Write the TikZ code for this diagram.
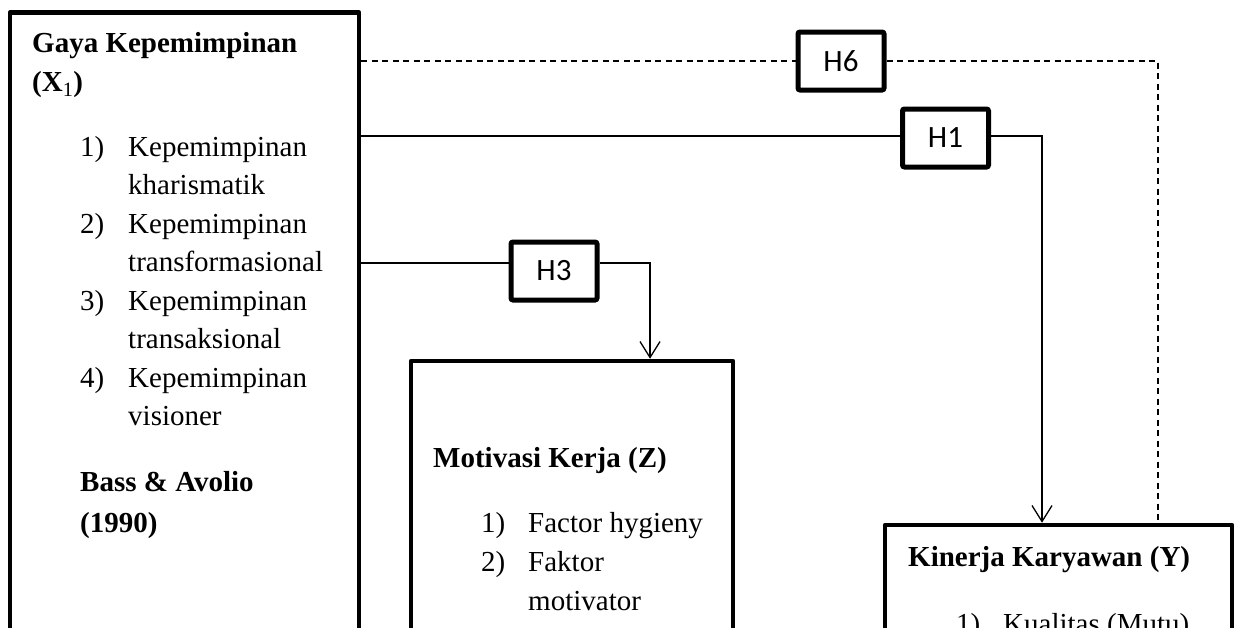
\documentclass[tikz,border=0pt]{standalone}
\usepackage{fontspec}
\setmainfont{Liberation Serif}
\newfontfamily\hypfont{Carlito}
\usetikzlibrary{arrows.meta}
\newcommand\bodysize{\fontsize{29}{38.5}\selectfont}
\tikzset{
	varbox/.style={draw, line width=4.5pt, line join=round, anchor=north west, minimum height=800pt},
	hypbox/.style={draw, fill=white, line width=5pt, rounded corners=2pt,
			minimum width=86pt, minimum height=58pt, font=\fontsize{31}{36}\selectfont\hypfont},
	lbl/.style={anchor=base west, inner sep=0pt, font=\bodysize},
	ttl/.style={lbl, font=\bodysize\bfseries},
	link/.style={line width=1.3pt},
	dlink/.style={link, dash pattern=on 6pt off 4.5pt},
	arr/.style={-{Straight Barb[length=16pt,width=20pt]}}
}

\begin{document}
\begin{tikzpicture}[x=1pt,y=-1pt]
	\useasboundingbox (0,0) rectangle (1235,627);
	\clip (0,0) rectangle (1235,627);

	% variable boxes
	\node[varbox, minimum width=349pt] (lead) at (7.75,10.25) {};
	\node[varbox, minimum width=322pt] (mot) at (408.75,358.75) {};
	\node[varbox, minimum width=347pt] (kin) at (882.75,522.75) {};

	% hypotheses
	\node[hypbox] (h6) at (841,61) {H6};
	\node[hypbox] (h1) at (945.5,138) {H1};
	\node[hypbox] (h3) at (554,271) {H3};

	\coordinate (h1l) at ([yshift=2pt]h1.west);
	\coordinate (h1r) at ([yshift=2pt]h1.east);
	\coordinate (h3l) at ([yshift=8pt]h3.west);
	\coordinate (h3r) at ([yshift=8pt]h3.east);

	\draw[dlink] (lead.east |- h6.west) -- (h6.west);
	\draw[dlink] (h6.east) -| ([xshift=99.5pt]kin.north);
	\draw[link] (lead.east |- h1l) -- (h1l);
	\draw[link, arr] (h1r) -| ([xshift=-16.5pt]kin.north);
	\draw[link] (lead.east |- h3l) -- (h3l);
	\draw[link, arr] (h3r) -| ([xshift=78pt]mot.north);

	% Gaya Kepemimpinan
	\node[ttl] (leadA) at (32,52.5) {Gaya Kepemimpinan};
	\node[ttl] (leadB) at (32,91.5) {(X\textsubscript{\normalfont 1})};
	\node[lbl] (leadN1) at (80,156) {1)};
	\node[lbl] (leadI1) at (128,156) {Kepemimpinan};
	\node[lbl] (leadI1b) at (128,194.5) {kharismatik};
	\node[lbl] (leadN2) at (80,233) {2)};
	\node[lbl] (leadI2) at (128,233) {Kepemimpinan};
	\node[lbl] (leadI2b) at (128,271.5) {transformasional};
	\node[lbl] (leadN3) at (80,310) {3)};
	\node[lbl] (leadI3) at (128,310) {Kepemimpinan};
	\node[lbl] (leadI3b) at (128,348.5) {transaksional};
	\node[lbl] (leadN4) at (80,387) {4)};
	\node[lbl] (leadI4) at (128,387) {Kepemimpinan};
	\node[lbl] (leadI4b) at (128,425.5) {visioner};
	\node[ttl] (leadS1) at (80,491) {Bass \& Avolio};
	\node[ttl] (leadS2) at (80,532) {(1990)};

	% Motivasi Kerja
	\node[ttl] (motA) at (433,467) {Motivasi Kerja (Z)};
	\node[lbl] (motN1) at (481,532) {1)};
	\node[lbl] (motI1) at (528,532) {Factor hygieny};
	\node[lbl] (motN2) at (481,571) {2)};
	\node[lbl] (motI2) at (528,571) {Faktor};
	\node[lbl] (motI2b) at (528,610) {motivator};

	% Kinerja Karyawan
	\node[ttl] (kinA) at (908,566) {Kinerja Karyawan (Y)};
	\node[lbl] (kinN1) at (956,633) {1)};
	\node[lbl] (kinI1) at (1003,633) {Kualitas (Mutu)};
\end{tikzpicture}
\end{document}
